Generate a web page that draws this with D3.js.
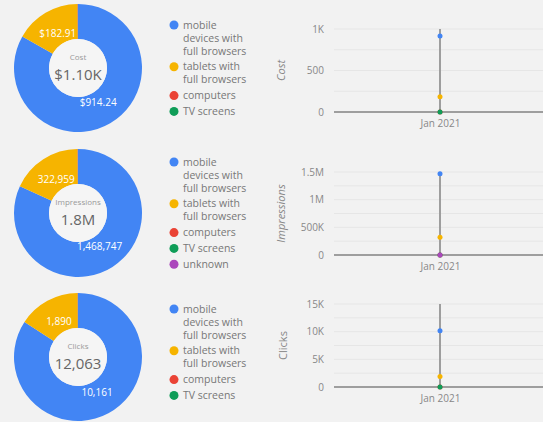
<!DOCTYPE html>
<html>
<head>
<meta charset="utf-8">
<script src="https://cdn.jsdelivr.net/npm/d3@7"></script>
<style>
  body { margin: 0; background: #f2f2f2; font-family: "Open Sans", sans-serif; }
  svg { display: block; }
</style>
</head>
<body>
<script>
const devices = ["mobile devices with full browsers", "tablets with full browsers", "computers", "TV screens", "unknown"];
const colors = ["#4285f4", "#f6b400", "#ea4335", "#0f9d58", "#ab47bc"];

const costValues = [914.24, 182.91, 1.2, 0.3];
const impressionValues = [1468747, 322959, 1500, 400, 200];
const clickValues = [10161, 1890, 9, 3];

const costLabels = ["$914.24", "$182.91"];
const impressionLabels = ["1,468,747", "322,959"];
const clickLabels = ["10,161", "1,890"];

const costTicks = [0, 500, 1000], costTickLabels = ["0", "500", "1K"];
const impressionTicks = [0, 500000, 1000000, 1500000], impressionTickLabels = ["0", "500K", "1M", "1.5M"];
const clickTicks = [0, 5000, 10000, 15000], clickTickLabels = ["0", "5K", "10K", "15K"];

const xCategory = ["Jan 2021"];

const width = 543, height = 422;
const svg = d3.select("body").append("svg").attr("width", width).attr("height", height);

// chart frames (top offset, plot bottom / top inside the frame, first legend row)
const panels = [
  {name: "Cost", total: "$1.10K", values: costValues, labels: costLabels, ticks: costTicks, tickLabels: costTickLabels, max: 1000,
   top: 0, cy: 68, y0: 112, y1: 29, legY: 25, titleX: 285},
  {name: "Impressions", total: "1.8M", values: impressionValues, labels: impressionLabels, ticks: impressionTicks, tickLabels: impressionTickLabels, max: 1500000,
   top: 144, cy: 69, y0: 111, y1: 28, legY: 18, titleX: 285},
  {name: "Clicks", total: "12,063", values: clickValues, labels: clickLabels, ticks: clickTicks, tickLabels: clickTickLabels, max: 15000,
   top: 288, cy: 69, y0: 99, y1: 16, legY: 21, titleX: 287}
];

const outerR = 64, innerR = 29;
const pie = d3.pie().sort(null).value(d => d);
const arc = d3.arc().innerRadius(innerR).outerRadius(outerR);
const labelArc = d3.arc().innerRadius(40).outerRadius(40);

panels.forEach((p, pi) => {
  const g = svg.append("g").attr("transform", "translate(0," + p.top + ")");

  // donut
  const donut = g.append("g").attr("transform", "translate(78," + p.cy + ")");
  const arcs = pie(p.values);
  donut.selectAll("path").data(arcs).enter().append("path")
    .attr("d", arc)
    .attr("fill", (d, i) => colors[i]);
  donut.append("circle").attr("r", innerR).attr("fill", "#f5f5f5");
  donut.selectAll("text.lab").data(arcs.slice(0, 2)).enter().append("text")
    .attr("class", "lab")
    .attr("transform", d => "translate(" + labelArc.centroid(d) + ")")
    .attr("dy", "0.35em")
    .attr("text-anchor", "middle")
    .attr("fill", "#fff")
    .style("font-size", "10px")
    .text((d, i) => p.labels[i]);
  donut.append("text").attr("y", -8).attr("text-anchor", "middle")
    .attr("fill", "#999").style("font-size", "8px").text(p.name);
  donut.append("text").attr("y", 12).attr("text-anchor", "middle")
    .attr("fill", "#666").style("font-size", "15px").text(p.total);

  // legend
  const legend = g.append("g").attr("transform", "translate(174,0)");
  const lines = [["mobile", "devices with", "full browsers"], ["tablets with", "full browsers"], ["computers"], ["TV screens"], ["unknown"]];
  let y = p.legY;
  p.values.forEach((v, i) => {
    legend.append("circle").attr("cx", 0).attr("cy", y).attr("r", 4.5).attr("fill", colors[i]);
    lines[i].forEach((t, j) => {
      legend.append("text").attr("x", 9).attr("y", y + j * 13).attr("dy", "0.35em")
        .attr("fill", "#777").style("font-size", "10.5px").text(t);
    });
    y += lines[i].length * 13 + 2.8;
  });

  // line chart
  const y0 = p.y0, y1 = p.y1;
  const yScale = d3.scaleLinear().domain([0, p.max]).range([y0, y1]);
  const x = d3.scalePoint().domain(xCategory).range([334, 546]).padding(0.5);

  const gridVals = d3.range(0, p.ticks.length * 2 - 1).map(k => k * p.ticks[1] / 2);
  g.selectAll("line.grid").data(gridVals).enter().append("line")
    .attr("x1", 334).attr("x2", width)
    .attr("y1", d => yScale(d)).attr("y2", d => yScale(d))
    .attr("stroke", "#e6e6e6").attr("stroke-width", 1);

  const yAxis = d3.axisLeft(yScale).tickValues(p.ticks).tickFormat((d, i) => p.tickLabels[i]).tickSize(0).tickPadding(10);
  const ya = g.append("g").attr("transform", "translate(334,0)").call(yAxis);
  ya.select(".domain").remove();
  ya.selectAll("text").attr("fill", "#888").style("font-size", "10px").style("font-family", "Open Sans");

  const xAxis = d3.axisBottom(x).tickSize(0).tickPadding(8);
  const xa = g.append("g").attr("transform", "translate(0," + y0 + ")").call(xAxis);
  xa.select(".domain").remove();
  xa.selectAll("text").attr("fill", "#888").style("font-size", "10px").style("font-family", "Open Sans");

  g.append("line").attr("x1", 334).attr("x2", width).attr("y1", y0).attr("y2", y0)
    .attr("stroke", "#9e9e9e").attr("stroke-width", 2);
  g.append("line").attr("x1", x("Jan 2021")).attr("x2", x("Jan 2021"))
    .attr("y1", yScale(p.max)).attr("y2", y0)
    .attr("stroke", "#9e9e9e").attr("stroke-width", 2);

  g.selectAll("circle.pt").data(p.values).enter().append("circle")
    .attr("class", "pt")
    .attr("cx", x("Jan 2021")).attr("cy", d => yScale(d)).attr("r", 2.5)
    .attr("fill", (d, i) => colors[i]);

  g.append("text")
    .attr("transform", "translate(" + p.titleX + "," + (y0 + y1) / 2 + ") rotate(-90)")
    .attr("text-anchor", "middle")
    .attr("fill", "#888").style("font-size", "11px")
    .style("font-style", p.name === "Clicks" ? "normal" : "italic")
    .text(p.name);
});
</script>
</body>
</html>
